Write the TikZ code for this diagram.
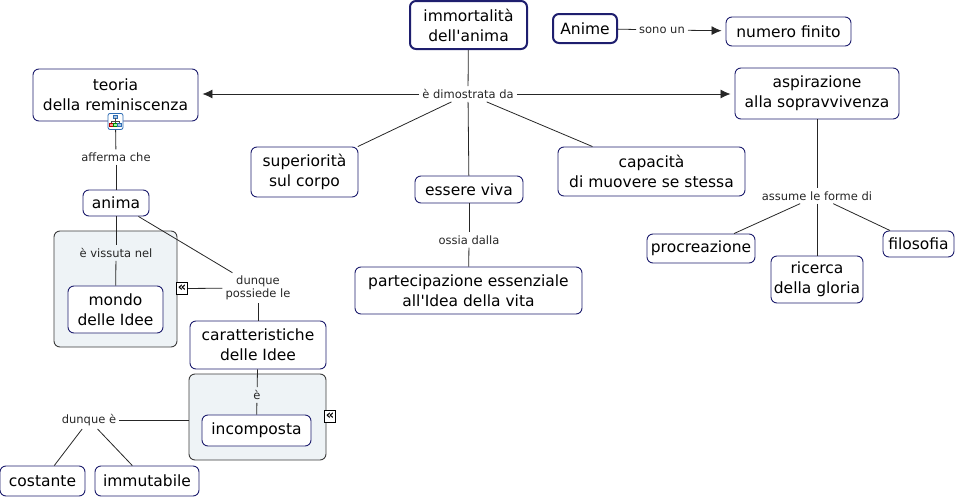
\documentclass[tikz,border=0pt]{standalone}
\usepackage{fontspec}
\setmainfont{DejaVu Sans}[Ligatures=TeXOff]
\usetikzlibrary{arrows.meta}

\definecolor{conceptblue}{HTML}{1E1E6E}
\definecolor{panelfill}{HTML}{EEF3F6}
\definecolor{panelline}{HTML}{3C3C3C}
\definecolor{iconblue}{HTML}{2E6DB4}

\begin{document}
\begin{tikzpicture} [x=1pt, y=-1pt,
concept/.style={draw=conceptblue, line width=0.9pt, rounded corners=6pt, fill=white,
  align=center, inner sep=2pt, font=\fontsize{15.5}{20}\selectfont},
root/.style={concept, line width=2pt},
phrase/.style={inner sep=3pt, align=center, text=black!85, font=\fontsize{11.5}{13}\selectfont},
panel/.style={draw=panelline, line width=0.9pt, fill=panelfill, rounded corners=6pt},
link/.style={draw=black!85, line width=0.8pt},
arrow/.style={link, -{Latex[length=10pt, width=9pt]}, shorten >=4pt},
chevron/.style={draw=black, fill=white, line width=0.7pt, inner sep=0pt,
  minimum width=11pt, minimum height=12pt, font=\bfseries\fontsize{13}{13}\selectfont}]
\useasboundingbox (0,0) rectangle (956,498);

% nested panels
\node[panel, minimum width=123pt, minimum height=116pt] (world) at (115.5,289) {};
\node[panel, minimum width=137pt, minimum height=86pt] (simple) at (257.5,417) {};

% concepts
\node[root, minimum width=117pt, minimum height=48pt] (immo) at (468.5,25) {immortalità\\dell'anima};
\node[root, minimum width=64pt, minimum height=29pt] (anime) at (585,28.5) {Anime};
\node[concept, minimum width=125pt, minimum height=29pt] (numero) at (788.5,31.5) {numero finito};
\node[concept, minimum width=165pt, minimum height=52pt] (teoria) at (115.5,95) {teoria\\della reminiscenza};
\node[concept, minimum width=164pt, minimum height=51pt] (aspir) at (817,93.5) {aspirazione\\alla sopravvivenza};
\node[concept, minimum width=107pt, minimum height=50pt] (superior) at (304.5,172) {superiorità\\sul corpo};
\node[concept, minimum width=108pt, minimum height=27pt] (essere) at (469,189.5) {essere viva};
\node[concept, minimum width=187pt, minimum height=49pt] (capacita) at (651.5,171.5) {capacità\\di muovere se stessa};
\node[concept, minimum width=227pt, minimum height=47pt] (partecip) at (468.5,290.5) {partecipazione essenziale\\all'Idea della vita};
\node[concept, minimum width=66pt, minimum height=26pt] (anima) at (116,203) {anima};
\node[concept, minimum width=95pt, minimum height=47pt] (mondo) at (115.5,309.5) {mondo\\delle Idee};
\node[concept, minimum width=136pt, minimum height=48pt] (caratt) at (258,345) {caratteristiche\\delle Idee};
\node[concept, minimum width=109pt, minimum height=31pt] (incomp) at (256.5,430.5) {incomposta};
\node[concept, minimum width=85pt, minimum height=30pt] (costante) at (42.5,481) {costante};
\node[concept, minimum width=104pt, minimum height=30pt] (immut) at (147,481) {immutabile};
\node[concept, minimum width=108pt, minimum height=29pt] (procre) at (701,248.5) {procreazione};
\node[concept, minimum width=92pt, minimum height=47pt] (gloria) at (817,279.5) {ricerca\\della gloria};
\node[concept, minimum width=71pt, minimum height=26pt] (filos) at (918.5,244) {filosofia};

% linking phrases
\node[phrase] (dim) at (468,94) {è dimostrata da};
\node[phrase] (sono) at (662,30) {sono un};
\node[phrase] (afferma) at (116,157) {afferma che};
\node[phrase] (vissuta) at (116,253) {è vissuta nel};
\node[phrase] (possiede) at (258,288) {dunque\\possiede le};
\node[phrase] (e) at (257,395) {è};
\node[phrase] (dunquee) at (89,420) {dunque è};
\node[phrase] (ossia) at (469,240) {ossia dalla};
\node[phrase] (assume) at (817,196) {assume le forme di};

% icons
\node[draw=iconblue, fill=white, rounded corners=2pt, line width=0.8pt, inner sep=0pt,
  minimum width=15pt, minimum height=16pt] (hier) at (teoria.south) {};
\begin{scope}[shift={(hier.center)}, line width=0.5pt]
  \draw[iconblue, fill=iconblue!40] (-2,-6) rectangle (2,-3);
  \draw[black!70] (0,-3) -- (0,0) (-4,0) -- (4,0) (-4,0) -- (-4,2) (4,0) -- (4,2) (0,0) -- (0,2);
  \draw[red!70!black, fill=red!40] (-6,2) rectangle (-2,5);
  \draw[green!50!black, fill=green!40] (-2,2) rectangle (2,5);
  \draw[iconblue, fill=iconblue!40] (2,2) rectangle (6,5);
\end{scope}
\node[chevron] (more1) at (182,288.5) {«};
\node[chevron] (more2) at (330,416) {«};

% links
\draw[link] (immo) -- (dim);
\draw[arrow] (dim) -- (dim -| teoria.east);
\draw[arrow] (dim) -- (dim -| aspir.west);
\draw[link] (dim) -- (superior);
\draw[link] (dim) -- (essere);
\draw[link] (dim) -- (capacita);
\draw[link] (essere) -- (ossia);
\draw[link] (ossia) -- (partecip);
\draw[link] (anime) -- (sono);
\draw[arrow] (sono) -- (numero);
\draw[link] (hier) -- (afferma);
\draw[link] (afferma) -- (anima);
\draw[link] (anima) -- (vissuta);
\draw[link] (vissuta) -- (mondo);
\draw[link] (anima) -- (possiede);
\draw[link] (possiede) -- (more1);
\draw[link] (possiede) -- (caratt);
\draw[link] (caratt) -- (e);
\draw[link] (e) -- (incomp);
\draw[link] (dunquee) -- (dunquee -| simple.west);
\draw[link] (dunquee) -- (costante);
\draw[link] (dunquee) -- (immut);
\draw[link] (aspir) -- (assume);
\draw[link] (assume) -- (procre);
\draw[link] (assume) -- (gloria);
\draw[link] (assume) -- (filos);

\end{tikzpicture}
\end{document}
